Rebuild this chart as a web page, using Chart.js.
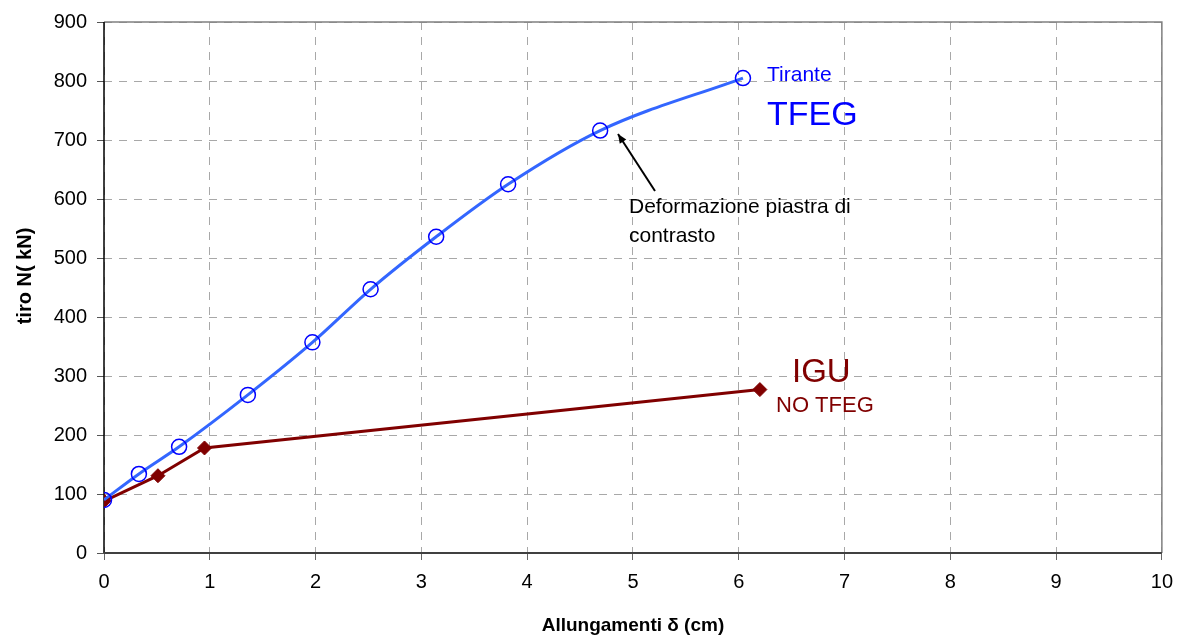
<!DOCTYPE html>
<html>
<head>
<meta charset="utf-8">
<script src="https://cdn.jsdelivr.net/npm/chart.js@4/dist/chart.umd.min.js"></script>
<style>
html,body{margin:0;padding:0;background:#fff;}
#wrap{width:1183px;height:636px;position:relative;}
</style>
</head>
<body>
<div id="wrap"><canvas id="c" width="1183" height="636"></canvas></div>
<script>
const tfegX = [0, 0.33, 0.71, 1.36, 1.97, 2.52, 3.14, 3.82, 4.69, 6.04];
const tfegY = [90, 134, 180, 268, 357, 447, 536, 625, 716, 805];
const iguX = [0, 0.51, 0.95, 6.2];
const iguY = [88, 131, 178, 277];
const xTicks = [0,1,2,3,4,5,6,7,8,9,10];
const yTicks = [0,100,200,300,400,500,600,700,800,900];
const xTitle = 'Allungamenti δ (cm)';
const yTitle = 'tiro N( kN)';

const FONT = "'Liberation Sans', Arial, sans-serif";

const annot = {
  id: 'annot',
  beforeDatasetsDraw(chart) {
    const ctx = chart.ctx;
    const a = chart.chartArea;
    ctx.save();
    // top and right frame
    ctx.strokeStyle = '#808080';
    ctx.lineWidth = 1.5;
    ctx.beginPath();
    ctx.moveTo(a.left, a.top);
    ctx.lineTo(a.right, a.top);
    ctx.lineTo(a.right, a.bottom);
    ctx.stroke();
    // axes
    ctx.strokeStyle = '#000';
    ctx.lineWidth = 1.5;
    ctx.beginPath();
    ctx.moveTo(a.left, a.top);
    ctx.lineTo(a.left, a.bottom);
    ctx.stroke();
    ctx.strokeStyle = '#404040';
    ctx.lineWidth = 2;
    ctx.beginPath();
    ctx.moveTo(a.left, a.bottom);
    ctx.lineTo(a.right, a.bottom);
    ctx.stroke();
    ctx.restore();
  },
  afterDatasetsDraw(chart) {
    const ctx = chart.ctx;
    const a = chart.chartArea;
    ctx.save();
    ctx.textBaseline = 'alphabetic';
    ctx.textAlign = 'left';
    ctx.fillStyle = '#0000FF';
    ctx.font = "21px " + FONT;
    ctx.fillText('Tirante', 767, 81);
    ctx.font = "34px " + FONT;
    ctx.fillText('TFEG', 767, 125);

    ctx.fillStyle = '#800000';
    ctx.font = "33px " + FONT;
    ctx.fillText('IGU', 792, 382);
    ctx.font = "22px " + FONT;
    ctx.fillText('NO TFEG', 776, 412);

    ctx.fillStyle = '#000';
    ctx.font = "21px " + FONT;
    ctx.fillText('Deformazione piastra di', 629, 213);
    ctx.fillText('contrasto', 629, 242);

    // arrow
    const x1 = 655, y1 = 191, x2 = 618, y2 = 134;
    ctx.strokeStyle = '#000';
    ctx.lineWidth = 2;
    ctx.beginPath();
    ctx.moveTo(x1, y1);
    ctx.lineTo(x2, y2);
    ctx.stroke();
    const ang = Math.atan2(y2 - y1, x2 - x1);
    const L = 10, W = 0.4;
    ctx.beginPath();
    ctx.moveTo(x2, y2);
    ctx.lineTo(x2 - L * Math.cos(ang - W), y2 - L * Math.sin(ang - W));
    ctx.lineTo(x2 - L * Math.cos(ang + W), y2 - L * Math.sin(ang + W));
    ctx.closePath();
    ctx.fillStyle = '#000';
    ctx.fill();

    // axis titles
    ctx.font = "bold 19px " + FONT;
    ctx.textAlign = 'center';
    ctx.textBaseline = 'middle';
    ctx.fillText(xTitle, (a.left + a.right) / 2, 626);
    ctx.font = "bold 20px " + FONT;
    ctx.translate(25, 276);
    ctx.rotate(-Math.PI / 2);
    ctx.fillText(yTitle, 0, 0);
    ctx.restore();
  }
};

new Chart(document.getElementById('c'), {
  type: 'scatter',
  data: {
    datasets: [
      {
        label: 'IGU NO TFEG',
        data: iguX.map((x, i) => ({x, y: iguY[i]})),
        showLine: true,
        borderColor: '#800000',
        backgroundColor: '#800000',
        borderWidth: 3,
        pointStyle: 'rectRot',
        pointRadius: 7,
        pointBorderWidth: 1,
        pointBackgroundColor: '#800000',
        pointBorderColor: '#800000',
        tension: 0,
        order: 2
      },
      {
        label: 'Tirante TFEG',
        data: tfegX.map((x, i) => ({x, y: tfegY[i]})),
        showLine: true,
        borderColor: '#3366FF',
        borderWidth: 3,
        pointStyle: 'circle',
        pointRadius: 7.5,
        pointBorderWidth: 1.5,
        pointBackgroundColor: 'rgba(0,0,0,0)',
        pointBorderColor: '#0000FF',
        cubicInterpolationMode: 'monotone',
        order: 1
      }
    ]
  },
  options: {
    responsive: false,
    animation: false,
    events: [],
    layout: { padding: { left: 0, top: 22, right: 20, bottom: 0 } },
    plugins: { legend: { display: false }, tooltip: { enabled: false } },
    scales: {
      x: {
        type: 'linear',
        min: 0, max: 10,
        afterBuildTicks: s => { s.ticks = xTicks.map(v => ({value: v})); },
        afterFit: s => { s.height = 83; },
        ticks: { color: '#000', font: { family: FONT, size: 20 }, padding: 10, maxRotation: 0 },
        grid: { color: '#a8a8a8', lineWidth: 1, tickColor: '#666', tickLength: 7, tickBorderDash: [] },
        border: { display: false, dash: [8, 7] }
      },
      y: {
        type: 'linear',
        min: 0, max: 900,
        afterBuildTicks: s => { s.ticks = yTicks.map(v => ({value: v})); },
        afterFit: s => { s.width = 104; },
        ticks: { color: '#000', font: { family: FONT, size: 20 }, padding: 10 },
        grid: { color: '#a8a8a8', lineWidth: 1, tickColor: '#555', tickLength: 7, tickBorderDash: [] },
        border: { display: false, dash: [8, 7] }
      }
    }
  },
  plugins: [annot]
});
</script>
</body>
</html>
